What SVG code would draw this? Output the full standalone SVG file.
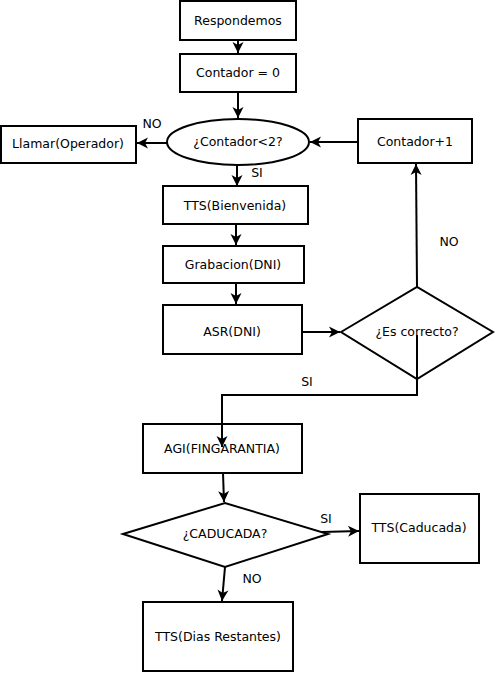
<svg xmlns="http://www.w3.org/2000/svg" width="495" height="673" viewBox="0 0 495 673">
<style>
.box{fill:#fff;stroke:#000;stroke-width:2}
.t{font-family:"DejaVu Sans",sans-serif;font-size:12.5px;fill:#000;text-anchor:middle}
.c{fill:none;stroke:#000;stroke-width:2}
</style>
<defs>
<marker id="ah" viewBox="-12 -6 13 12" refX="0" refY="0" markerWidth="13" markerHeight="12" orient="auto" markerUnits="userSpaceOnUse">
<path d="M0,0 L-11,-5.5 L-8,0 L-11,5.5 Z" fill="#000"/>
</marker>
</defs>
<rect width="495" height="673" fill="#fff"/>
<g id="connectors">
<line class="c" x1="238" y1="41" x2="238" y2="53" marker-end="url(#ah)"/>
<line class="c" x1="238" y1="92" x2="238" y2="118" marker-end="url(#ah)"/>
<line class="c" x1="167" y1="143" x2="137" y2="143" marker-end="url(#ah)"/>
<line class="c" x1="358" y1="142" x2="310" y2="142" marker-end="url(#ah)"/>
<line class="c" x1="237" y1="165" x2="237" y2="186" marker-end="url(#ah)"/>
<line class="c" x1="236" y1="224" x2="236" y2="245" marker-end="url(#ah)"/>
<line class="c" x1="236" y1="283" x2="236" y2="304" marker-end="url(#ah)"/>
<line class="c" x1="302" y1="332" x2="340" y2="332" marker-end="url(#ah)"/>
<line class="c" x1="417" y1="287" x2="416" y2="164" marker-end="url(#ah)"/>
<line class="c" x1="223" y1="473" x2="224" y2="502" marker-end="url(#ah)"/>
<line class="c" x1="322" y1="532" x2="359" y2="531" marker-end="url(#ah)"/>
<line class="c" x1="225" y1="567" x2="222" y2="601" marker-end="url(#ah)"/>
</g>
<g id="n1"><rect class="box" x="180" y="1" width="116" height="39"/><text class="t" x="238" y="25">Respondemos</text></g>
<g id="n2"><rect class="box" x="180" y="54" width="116" height="38"/><text class="t" x="238" y="77">Contador = 0</text></g>
<g id="n3"><ellipse class="box" cx="238" cy="142" rx="71" ry="23"/><text class="t" x="238" y="146">¿Contador&lt;2?</text></g>
<g id="n4"><rect class="box" x="1" y="126" width="135" height="37"/><text class="t" x="68" y="148">Llamar(Operador)</text></g>
<g id="n5"><rect class="box" x="358" y="119" width="114" height="44"/><text class="t" x="415" y="146">Contador+1</text></g>
<g id="n6"><rect class="box" x="163" y="186" width="145" height="38"/><text class="t" x="235" y="210">TTS(Bienvenida)</text></g>
<g id="n7"><rect class="box" x="163" y="246" width="141" height="37"/><text class="t" x="233" y="269">Grabacion(DNI)</text></g>
<g id="n8"><rect class="box" x="163" y="305" width="139" height="49"/><text class="t" x="232" y="336">ASR(DNI)</text></g>
<g id="n9"><polygon class="box" points="341,332 417,287 493,332 417,379"/><text class="t" x="417" y="336">¿Es correcto?</text></g>
<g id="n10"><rect class="box" x="143" y="424" width="159" height="49"/><text class="t" x="222" y="453">AGI(FINGARANTIA)</text></g>
<g id="n11"><polygon class="box" points="123,534 225,503 328,534 225,567"/><text class="t" x="225" y="538">¿CADUCADA?</text></g>
<g id="n12"><rect class="box" x="360" y="494" width="119" height="69"/><text class="t" x="419" y="532">TTS(Caducada)</text></g>
<g id="n13"><rect class="box" x="143" y="602" width="150" height="69"/><text class="t" x="218" y="641">TTS(Dias Restantes)</text></g>
<g id="connectors-over">
<polyline class="c" points="417,335 417,395 222,395 222,447" marker-end="url(#ah)"/>
</g>
<g id="labels">
<text class="t" x="152" y="128">NO</text>
<text class="t" x="257" y="177">SI</text>
<text class="t" x="449" y="246">NO</text>
<text class="t" x="307" y="386">SI</text>
<text class="t" x="326" y="523">SI</text>
<text class="t" x="252" y="583">NO</text>
</g>
</svg>
